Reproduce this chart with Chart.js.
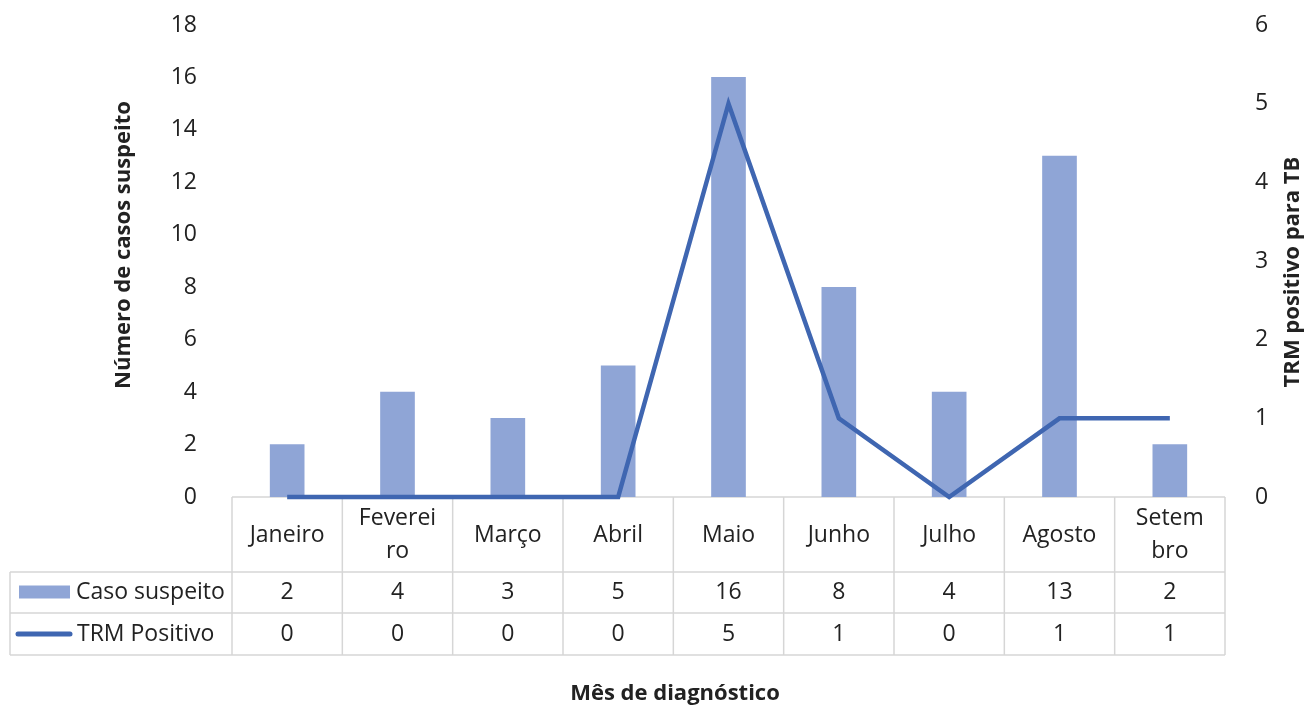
<!DOCTYPE html>
<html>
<head>
<meta charset="UTF-8">
<title>Casos suspeitos e TRM positivo por mês</title>
<script src="https://cdn.jsdelivr.net/npm/chart.js@4.4.1/dist/chart.umd.min.js"></script>
<style>
  body {margin: 0; background: #fff;}
  #grafico {display: block;}
</style>
</head>
<body>
<canvas id="grafico" width="1308" height="709"></canvas>
<script>
// dados
var meses = ['Janeiro', ['Feverei', 'ro'], 'Março', 'Abril', 'Maio', 'Junho', 'Julho', 'Agosto', ['Setem', 'bro']];
var casoSuspeito = [2, 4, 3, 5, 16, 8, 4, 13, 2];
var trmPositivo = [0, 0, 0, 0, 5, 1, 0, 1, 1];
var nomesSeries = ['Caso suspeito', 'TRM Positivo'];
var eixoEsq = [0, 18, 2];   // min, max, passo
var eixoDir = [0, 6, 1];
var tituloEsq = 'Número de casos suspeito';
var tituloDir = 'TRM positivo para TB';
var tituloX = 'Mês de diagnóstico';

var corBarra = '#8FA5D6';
var corLinha = '#3F66B1';
var corTexto = '#222222';
var corGrade = '#d6d6d6';
var fonte = "'Open Sans', sans-serif";

Chart.defaults.font.family = fonte;
Chart.defaults.font.size = 23;
Chart.defaults.color = corTexto;

// largura fixa dos eixos, sem folga vertical extra
function fixaEixo(larg) {
  return function (s) {
    s.width = larg;
    s.paddingTop = 0;
    s.paddingBottom = 0;
  };
}

// tabela de dados sob o gráfico, legenda e títulos dos eixos
var tabela = {
  id: 'tabela',
  beforeDatasetsDraw: function (chart) {
    var ctx = chart.ctx, area = chart.chartArea;
    var n = meses.length;
    var larg = (area.right - area.left) / n;
    var y0 = area.bottom, y1 = y0 + 75, y2 = y1 + 41, y3 = y2 + 42;
    var esq = 10;
    ctx.save();
    ctx.strokeStyle = corGrade;
    ctx.lineWidth = 1.5;
    ctx.beginPath();
    ctx.moveTo(area.left, y0); ctx.lineTo(area.right, y0);
    [y1, y2, y3].forEach(function (y) {
      ctx.moveTo(esq, y); ctx.lineTo(area.right, y);
    });
    for (var i = 0; i <= n; i++) {
      var xx = area.left + i * larg;
      ctx.moveTo(xx, y0); ctx.lineTo(xx, y3);
    }
    ctx.moveTo(esq, y1); ctx.lineTo(esq, y3);
    ctx.stroke();
    ctx.restore();
  },
  afterDraw: function (chart) {
    var ctx = chart.ctx, area = chart.chartArea, sx = chart.scales.x;
    var y0 = area.bottom, y1 = y0 + 75, y2 = y1 + 41, y3 = y2 + 42;
    ctx.save();
    ctx.fillStyle = corTexto;
    ctx.font = '23px ' + fonte;
    ctx.textAlign = 'center';
    ctx.textBaseline = 'middle';
    meses.forEach(function (m, i) {
      var cx = sx.getPixelForValue(i);
      if (Array.isArray(m)) {
        ctx.fillText(m[0], cx, (y0 + y1) / 2 - 16);
        ctx.fillText(m[1], cx, (y0 + y1) / 2 + 17);
      } else {
        ctx.fillText(m, cx, (y0 + y1) / 2 + 1);
      }
      ctx.fillText(String(casoSuspeito[i]), cx, (y1 + y2) / 2);
      ctx.fillText(String(trmPositivo[i]), cx, (y2 + y3) / 2);
    });

    // legenda na primeira coluna
    ctx.fillStyle = corBarra;
    ctx.fillRect(19, (y1 + y2) / 2 - 7, 51, 13);
    ctx.strokeStyle = corLinha;
    ctx.lineWidth = 5;
    ctx.lineCap = 'round';
    ctx.beginPath();
    ctx.moveTo(18, (y2 + y3) / 2);
    ctx.lineTo(70, (y2 + y3) / 2);
    ctx.stroke();
    ctx.fillStyle = corTexto;
    ctx.textAlign = 'left';
    ctx.fillText(nomesSeries[0], 76, (y1 + y2) / 2);
    ctx.fillText(nomesSeries[1], 77, (y2 + y3) / 2);

    // títulos
    ctx.font = 'bold 22px ' + fonte;
    ctx.textAlign = 'center';
    ctx.textBaseline = 'alphabetic';
    ctx.fillText(tituloX, 675, 700);
    ctx.textBaseline = 'middle';
    ctx.translate(124, 245);
    ctx.rotate(-Math.PI / 2);
    ctx.fillText(tituloEsq, 0, 0);
    ctx.setTransform(1, 0, 0, 1, 0, 0);
    ctx.translate(1293, 272);
    ctx.rotate(-Math.PI / 2);
    ctx.fillText(tituloDir, 0, 0);
    ctx.restore();
  }
};

var grafico = new Chart(document.getElementById('grafico'), {
  type: 'bar',
  data: {
    labels: meses,
    datasets: [
      {
        type: 'line',
        label: nomesSeries[1],
        data: trmPositivo,
        yAxisID: 'y1',
        borderColor: corLinha,
        borderWidth: 4.5,
        pointRadius: 0,
        tension: 0,
        clip: false,
        order: 0
      },
      {
        type: 'bar',
        label: nomesSeries[0],
        data: casoSuspeito,
        yAxisID: 'y',
        backgroundColor: corBarra,
        barThickness: 34,
        order: 1
      }
    ]
  },
  options: {
    responsive: false,
    animation: false,
    devicePixelRatio: 1,
    layout: {padding: {top: 25, bottom: 212, left: 0, right: 0}},
    plugins: {legend: {display: false}, tooltip: {enabled: false}},
    scales: {
      x: {display: false},
      y: {
        position: 'left',
        min: eixoEsq[0], max: eixoEsq[1],
        ticks: {stepSize: eixoEsq[2], padding: 27},
        grid: {display: false},
        border: {display: false},
        afterFit: fixaEixo(232)
      },
      y1: {
        position: 'right',
        min: eixoDir[0], max: eixoDir[1],
        ticks: {stepSize: eixoDir[2], padding: 22},
        grid: {display: false},
        border: {display: false},
        afterFit: fixaEixo(83)
      }
    }
  },
  plugins: [tabela]
});
</script>
</body>
</html>
